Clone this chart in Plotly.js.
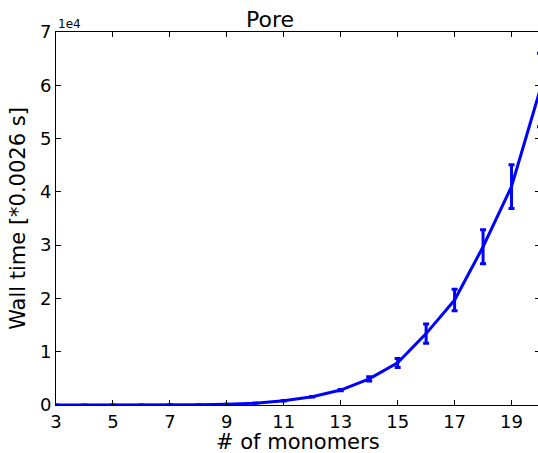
<!DOCTYPE html>
<html>
<head>
<meta charset="utf-8">
<script src="https://cdn.plot.ly/plotly-3.0.1.min.js"></script>
<style>html,body{margin:0;padding:0;overflow:hidden;background:#fff;}</style>
</head>
<body>
<div id="chart" style="width:540px;height:453px;"></div>
<script>
// # of monomers
var monomers = [3, 4, 5, 6, 7, 8, 9, 10, 11, 12, 13, 14, 15, 16, 17, 18, 19, 20];
// Wall time [*0.0026 s]
var wallTime = [1, 2, 4, 10, 25, 60, 150, 350, 800, 1550, 2800, 4900, 7900, 13400, 19700, 29700, 41000, 59100];
var wallErr  = [0, 0, 0, 1, 2, 4, 8, 15, 30, 60, 120, 400, 850, 1800, 2000, 3200, 4100, 6900];
var yTickVals = [0, 10000, 20000, 30000, 40000, 50000, 60000, 70000];
var yTickText = ["0", "1", "2", "3", "4", "5", "6", "7"];
var xTickVals = [3, 5, 7, 9, 11, 13, 15, 17, 19];

var font = "DejaVu Sans, sans-serif";
var trace = {
  x: monomers,
  y: wallTime,
  type: 'scatter',
  mode: 'lines',
  line: {color: '#0000ff', width: 3},
  error_y: {type: 'data', array: wallErr, visible: true, color: '#0000ff', thickness: 3, width: 3},
  showlegend: false
};
var layout = {
  width: 540, height: 453,
  margin: {l: 56, r: 0, t: 32, b: 48},
  paper_bgcolor: '#fff', plot_bgcolor: '#fff',
  font: {family: font, color: '#000'},
  title: {text: 'Pore', font: {size: 22, family: font}, x: 0.5, xanchor: 'center', y: 0.975, yanchor: 'top'},
  xaxis: {
    range: [3, 20], tickvals: xTickVals, ticks: 'inside', ticklen: 5, tickcolor: '#000',
    showline: true, linecolor: '#000', linewidth: 1, mirror: 'ticks', showgrid: false, zeroline: false,
    tickfont: {size: 18, family: font}, automargin: false
  },
  yaxis: {
    range: [0, 70000], tickvals: yTickVals, ticktext: yTickText, ticks: 'inside', ticklen: 5, tickcolor: '#000',
    showline: true, linecolor: '#000', linewidth: 1, mirror: 'ticks', showgrid: false, zeroline: false,
    tickfont: {size: 18, family: font}, automargin: false,
    title: {text: 'Wall time [*0.0026 s]', font: {size: 21, family: font}, standoff: 8}
  },
  annotations: [{
    text: '1e4', xref: 'paper', yref: 'paper', x: 0, y: 1, xanchor: 'left', yanchor: 'bottom',
    showarrow: false, font: {size: 12, family: font}, yshift: -1
  }, {
    text: '# of monomers', xref: 'paper', yref: 'paper', x: 0.5, y: 0, xanchor: 'center', yanchor: 'middle',
    showarrow: false, font: {size: 21, family: font}, yshift: -37
  }]
};
Plotly.newPlot('chart', [trace], layout, {displayModeBar: false, staticPlot: true});
</script>
</body>
</html>
